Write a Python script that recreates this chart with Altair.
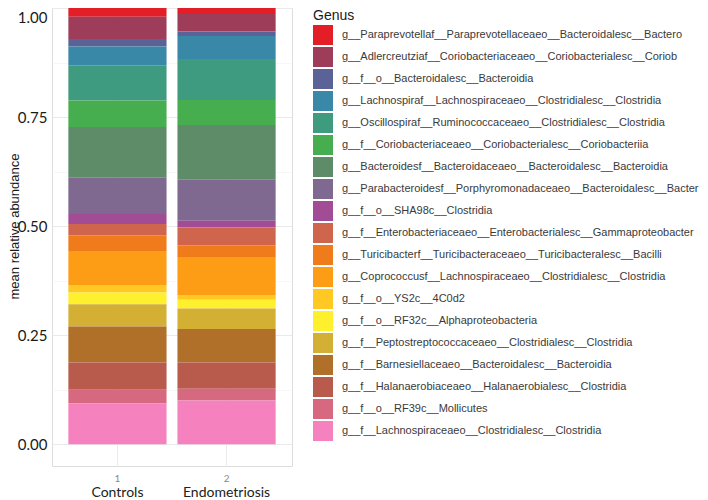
import altair as alt
import pandas as pd

genus = [
    "g__Paraprevotellaf__Paraprevotellaceaeo__Bacteroidalesc__Bactero",
    "g__Adlercreutziaf__Coriobacteriaceaeo__Coriobacterialesc__Coriob",
    "g__f__o__Bacteroidalesc__Bacteroidia",
    "g__Lachnospiraf__Lachnospiraceaeo__Clostridialesc__Clostridia",
    "g__Oscillospiraf__Ruminococcaceaeo__Clostridialesc__Clostridia",
    "g__f__Coriobacteriaceaeo__Coriobacterialesc__Coriobacteriia",
    "g__Bacteroidesf__Bacteroidaceaeo__Bacteroidalesc__Bacteroidia",
    "g__Parabacteroidesf__Porphyromonadaceaeo__Bacteroidalesc__Bacter",
    "g__f__o__SHA98c__Clostridia",
    "g__f__Enterobacteriaceaeo__Enterobacterialesc__Gammaproteobacter",
    "g__Turicibacterf__Turicibacteraceaeo__Turicibacteralesc__Bacilli",
    "g__Coprococcusf__Lachnospiraceaeo__Clostridialesc__Clostridia",
    "g__f__o__YS2c__4C0d2",
    "g__f__o__RF32c__Alphaproteobacteria",
    "g__f__Peptostreptococcaceaeo__Clostridialesc__Clostridia",
    "g__f__Barnesiellaceaeo__Bacteroidalesc__Bacteroidia",
    "g__f__Halanaerobiaceaeo__Halanaerobialesc__Clostridia",
    "g__f__o__RF39c__Mollicutes",
    "g__f__Lachnospiraceaeo__Clostridialesc__Clostridia",
]

colors = [
    "#E41E26", "#9E3D5A", "#5B6297", "#3A88A8", "#3E9B7F", "#47AE4F",
    "#5E8B68", "#7F6990", "#A24C96", "#D0654E", "#F07B1B", "#FD9C15",
    "#FFC822", "#FFF02E", "#D3B034", "#B1702A", "#B85A4C", "#D6697F",
    "#F681BF",
]

controls = [0.020, 0.051, 0.017, 0.043, 0.081, 0.061, 0.116, 0.083, 0.023,
            0.026, 0.036, 0.078, 0.017, 0.027, 0.051, 0.083, 0.062, 0.032,
            0.093]
endometriosis = [0.014, 0.040, 0.010, 0.053, 0.094, 0.057, 0.126, 0.094,
                 0.015, 0.041, 0.027, 0.087, 0.011, 0.020, 0.047, 0.077,
                 0.060, 0.027, 0.100]

groups = ["1", "2"]
group_names = ["Controls", "Endometriosis"]

rows = []
for g, vals in zip(groups, [controls, endometriosis]):
    for i, (name, v) in enumerate(zip(genus, vals)):
        rows.append({"group": g, "Genus": name, "abundance": v,
                     "rank": len(genus) - 1 - i})
df = pd.DataFrame(rows)
names_df = pd.DataFrame({"group": groups, "name": group_names})

W, H = 240, 458

x_enc = alt.X(
    "group:N",
    title=None,
    scale=alt.Scale(paddingInner=0.1, paddingOuter=0.15),
    axis=alt.Axis(
        labelAngle=0, labelFont="Lato", labelFontSize=10, labelColor="#8a8a8a",
        labelPadding=7, ticks=False, tickSize=0, domain=False,
        grid=True, gridColor="#ebebeb", gridWidth=1,
    ),
)

bars = alt.Chart(df).mark_bar(strokeWidth=0).encode(
    x=x_enc,
    y=alt.Y(
        "abundance:Q",
        stack="zero",
        title="mean relative abundance",
        scale=alt.Scale(domain=[-0.05, 1.0], nice=False, zero=False),
        axis=alt.Axis(
            values=[0, 0.125, 0.25, 0.375, 0.5, 0.625, 0.75, 0.875, 1.0],
            labelExpr="(datum.value * 4) % 1 == 0 ? format(datum.value, '.2f') : ''",
            labelFont="Lato", labelFontSize=15, labelColor="#1a1a1a",
            labelPadding=5, labelFlush=True, labelFlushOffset=-2,
            ticks=False, tickSize=0, domain=False,
            gridColor={"condition": {"test": "(datum.value * 4) % 1 != 0", "value": "#f3f3f3"}, "value": "#e9e9e9"},
            gridWidth={"condition": {"test": "(datum.value * 4) % 1 != 0", "value": 0.7}, "value": 1},
            titleFont="Liberation Sans", titleFontSize=13, titleFontWeight="normal",
            titleColor="#1a1a1a", titleX=-34, titleY=218, titleAngle=-90,
            titleAlign="center", titleBaseline="alphabetic",
        ),
    ),
    color=alt.Color(
        "Genus:N",
        sort=genus,
        scale=alt.Scale(domain=genus, range=colors),
        legend=alt.Legend(
            title="Genus", orient="none", legendX=261, legendY=1,
            symbolType="square", symbolSize=400, symbolStrokeWidth=0,
            symbolOpacity=1, rowPadding=2, labelOffset=9,
            labelFont="Liberation Sans", labelFontSize=11, labelColor="#3a3a3a",
            labelLimit=600, titleFont="Liberation Sans", titleFontSize=14,
            titleFontWeight="normal", titleColor="#1a1a1a", titlePadding=2,
        ),
    ),
    order=alt.Order("rank:Q", sort="ascending"),
)

names = alt.Chart(names_df).mark_text(
    font="Lato", fontSize=14, color="#222222", baseline="middle", align="center"
).encode(
    x=alt.X("group:N"),
    text="name:N",
    y=alt.value(H + 27),
)

chart = alt.layer(bars, names).properties(
    width=W, height=H,
    padding={"left": 44, "top": 0, "right": 408, "bottom": 34},
    autosize=alt.AutoSizeParams(type="none"),
).configure_view(stroke=None).configure(background="white")

chart.save("out.html", embed_options={"renderer": "svg", "actions": False})
